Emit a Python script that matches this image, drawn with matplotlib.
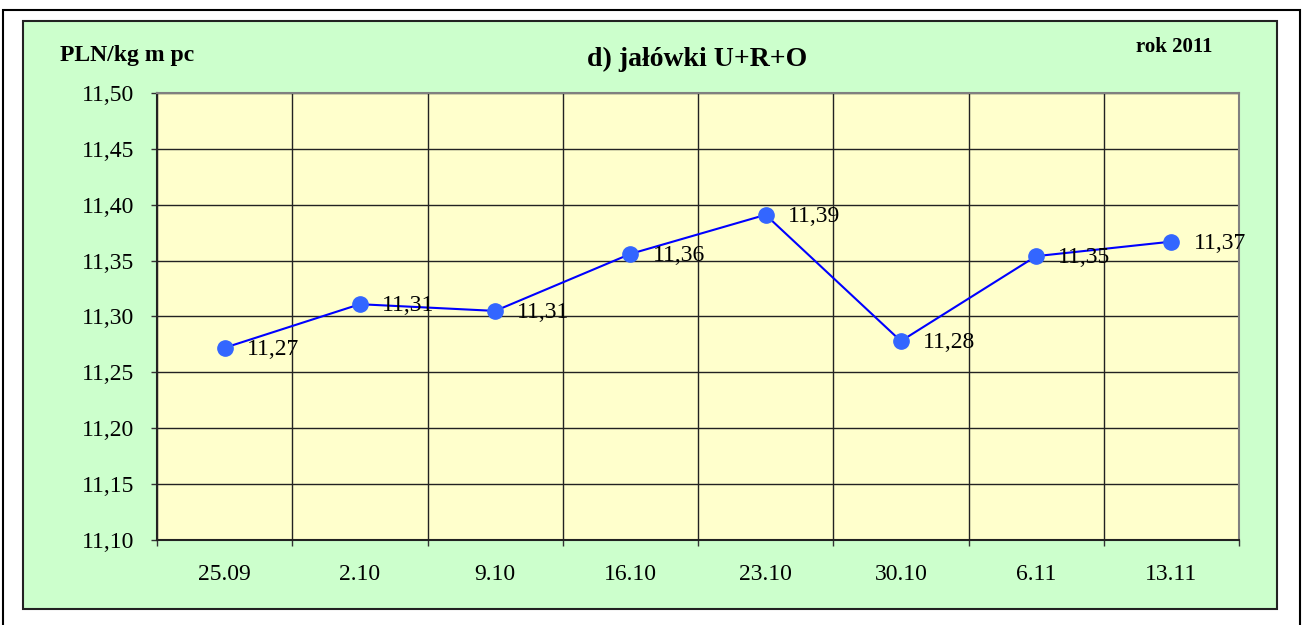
import matplotlib.pyplot as plt
from matplotlib.patches import Rectangle
from matplotlib.ticker import FixedLocator

# dane: ceny jałówek U+R+O, rok 2011
dates = ['25.09', '2.10', '9.10', '16.10', '23.10', '30.10', '6.11', '13.11']
prices = [11.272, 11.311, 11.305, 11.356, 11.391, 11.278, 11.354, 11.367]
labels = ['11,27', '11,31', '11,31', '11,36', '11,39', '11,28', '11,35', '11,37']
yticks = [11.10, 11.15, 11.20, 11.25, 11.30, 11.35, 11.40, 11.45, 11.50]

plt.rcParams['font.family'] = ['Liberation Serif', 'DejaVu Serif']

W, H = 1302, 625
fig = plt.figure(figsize=(W / 100, H / 100), dpi=100)
fig.patch.set_facecolor('white')

# ramka zewnętrzna i zielone tło
fig.patches.append(Rectangle((3 / W, -0.1), 1297 / W, 1 - 10 / H + 0.1, transform=fig.transFigure,
                             facecolor='white', edgecolor='black', linewidth=1.5, zorder=-2))
fig.patches.append(Rectangle((23 / W, 1 - 609 / H), 1254 / W, 588 / H, transform=fig.transFigure,
                             facecolor='#CCFFCC', edgecolor='#222222', linewidth=1.5, zorder=-1))

ax = fig.add_axes([157 / W, 1 - 540 / H, 1082 / W, 447 / H])
ax.set_facecolor('#FFFFCC')
x = list(range(len(dates)))
ax.plot(x, prices, color='#0000FF', linewidth=1.5, marker='o', markersize=11,
        markerfacecolor='#3366FF', markeredgecolor='#3366FF', zorder=3)
for xi, yi, lab in zip(x, prices, labels):
    ax.annotate(lab, (xi, yi), xytext=(16, -1), textcoords='offset points',
                va='center', ha='left', fontsize=17, zorder=4)

ax.set_xlim(-0.5, len(dates) - 0.5)
ax.set_ylim(11.10, 11.50)
ax.set_yticks(yticks)
ax.set_yticklabels([f'{v:.2f}'.replace('.', ',') for v in yticks], fontsize=17)
ax.set_xticks(x)
ax.set_xticklabels(dates, fontsize=17)
ax.xaxis.set_minor_locator(FixedLocator([i - 0.5 for i in range(len(dates) + 1)]))
ax.tick_params(axis='x', which='major', length=0, pad=17)
ax.tick_params(axis='x', which='minor', length=4.5, width=1, color='#333333')
ax.tick_params(axis='y', which='major', length=4.5, width=1, color='#333333', pad=12)
ax.grid(axis='y', which='major', color='#222222', linewidth=1)
ax.grid(axis='x', which='minor', color='#222222', linewidth=1)
ax.set_axisbelow(True)
for s in ax.spines.values():
    s.set_color('#808080')
    s.set_linewidth(1.5)
ax.spines['left'].set_color('#222222')
ax.spines['bottom'].set_color('#222222')

fig.text(60 / W, 1 - 55 / H, 'PLN/kg m pc', fontsize=17, fontweight='bold', va='center', ha='left')
fig.text(697 / W, 1 - 59 / H, 'd) jałówki U+R+O', fontsize=20, fontweight='bold', va='center', ha='center')
fig.text(1213 / W, 1 - 47 / H, 'rok 2011', fontsize=15, fontweight='bold', va='center', ha='right')

fig.savefig('out.png', dpi=100)
